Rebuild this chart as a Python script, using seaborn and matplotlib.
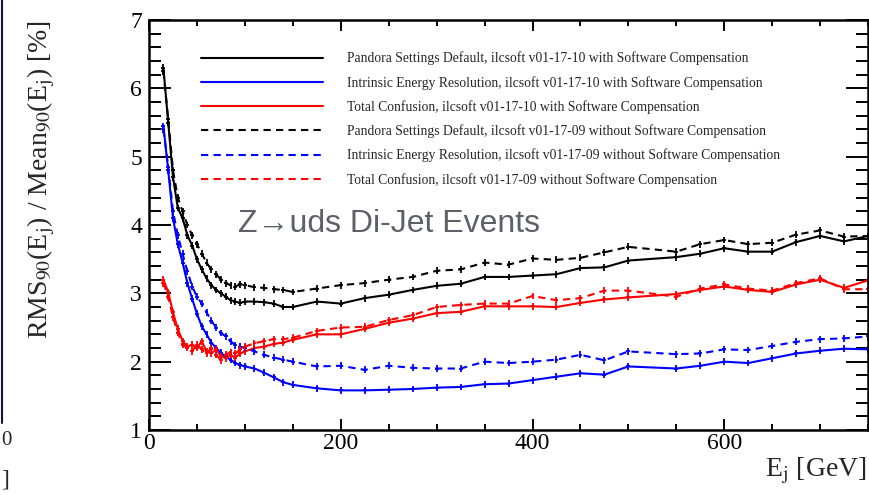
import numpy as np
import pandas as pd
import matplotlib
matplotlib.use("Agg")
import matplotlib.pyplot as plt
from matplotlib.lines import Line2D
from matplotlib.ticker import MultipleLocator
import seaborn as sns

# energias de los jets [GeV]
energia = [15, 20, 25, 30, 35, 40, 45, 50, 55, 60, 65, 70, 75, 80, 85, 90, 95, 100,
           110, 120, 130, 140, 150, 175, 200, 225, 250, 275, 300, 325, 350, 375, 400,
           425, 450, 475, 500, 550, 575, 600, 625, 650, 675, 700, 725, 750]

# con compensacion (v01-17-10)
pandora_10 = [6.30, 5.50, 4.70, 4.25, 4.10, 3.85, 3.70, 3.50, 3.35, 3.22, 3.12, 3.05, 3.00, 2.95,
              2.90, 2.88, 2.86, 2.88, 2.88, 2.87, 2.85, 2.80, 2.80, 2.88, 2.85, 2.93, 2.98, 3.05,
              3.11, 3.14, 3.24, 3.24, 3.26, 3.28, 3.37, 3.38, 3.48, 3.53, 3.58, 3.66, 3.61, 3.61,
              3.75, 3.84, 3.76, 3.84]
intrinseca_10 = [5.45, 4.80, 4.10, 3.72, 3.45, 3.15, 2.92, 2.70, 2.52, 2.40, 2.28, 2.20, 2.13, 2.07,
                 2.03, 1.98, 1.95, 1.93, 1.90, 1.84, 1.77, 1.70, 1.66, 1.61, 1.58, 1.58, 1.59, 1.60,
                 1.62, 1.63, 1.67, 1.68, 1.73, 1.78, 1.83, 1.81, 1.93, 1.90, 1.94, 2.00, 1.98, 2.05,
                 2.12, 2.16, 2.19, 2.18]
confusion_10 = [3.20, 3.02, 2.72, 2.48, 2.30, 2.22, 2.25, 2.20, 2.30, 2.15, 2.12, 2.18, 2.08, 2.05,
                2.10, 2.06, 2.12, 2.15, 2.20, 2.22, 2.26, 2.28, 2.32, 2.40, 2.40, 2.48, 2.57, 2.63,
                2.71, 2.73, 2.81, 2.81, 2.81, 2.80, 2.86, 2.91, 2.94, 2.99, 3.05, 3.10, 3.05, 3.02,
                3.13, 3.20, 3.08, 3.19]

# sin compensacion (v01-17-09)
pandora_09 = [6.25, 5.55, 4.80, 4.40, 4.20, 4.00, 3.85, 3.72, 3.58, 3.45, 3.35, 3.28, 3.20, 3.15,
              3.12, 3.10, 3.13, 3.12, 3.09, 3.08, 3.06, 3.05, 3.02, 3.07, 3.12, 3.15, 3.20, 3.24,
              3.33, 3.35, 3.45, 3.42, 3.51, 3.49, 3.52, 3.60, 3.68, 3.61, 3.72, 3.78, 3.72, 3.74,
              3.86, 3.92, 3.83, 3.84]
intrinseca_09 = [5.40, 4.85, 4.20, 3.85, 3.58, 3.32, 3.10, 2.95, 2.85, 2.72, 2.60, 2.50, 2.42, 2.37,
                 2.30, 2.24, 2.22, 2.20, 2.15, 2.10, 2.06, 2.03, 2.00, 1.93, 1.94, 1.88, 1.94, 1.91,
                 1.90, 1.90, 2.00, 1.98, 2.00, 2.03, 2.10, 2.02, 2.15, 2.11, 2.12, 2.18, 2.17, 2.23,
                 2.29, 2.33, 2.34, 2.37]
confusion_09 = [3.15, 2.95, 2.65, 2.42, 2.25, 2.20, 2.15, 2.25, 2.18, 2.12, 2.20, 2.10, 2.02, 2.10,
                2.14, 2.12, 2.18, 2.22, 2.27, 2.30, 2.33, 2.33, 2.35, 2.45, 2.50, 2.51, 2.61, 2.68,
                2.80, 2.83, 2.85, 2.85, 2.96, 2.90, 2.93, 3.04, 3.04, 2.95, 3.07, 3.13, 3.07, 3.04,
                3.15, 3.22, 3.06, 3.06]

etiquetas = [
    "Pandora Settings Default, ilcsoft v01-17-10 with Software Compensation",
    "Intrinsic Energy Resolution, ilcsoft v01-17-10 with Software Compensation",
    "Total Confusion, ilcsoft v01-17-10 with Software Compensation",
    "Pandora Settings Default, ilcsoft v01-17-09 without Software Compensation",
    "Intrinsic Energy Resolution, ilcsoft v01-17-09 without Software Compensation",
    "Total Confusion, ilcsoft v01-17-09 without Software Compensation",
]
series = [pandora_10, intrinseca_10, confusion_10, pandora_09, intrinseca_09, confusion_09]
colores = ["black", "blue", "red", "black", "blue", "red"]
trazos = ["", "", "", (3.5, 2.5), (3.5, 2.5), (3.5, 2.5)]

# se arma el dataframe en formato largo
df = pd.concat([pd.DataFrame({"E": energia, "res": s, "serie": e})
                for s, e in zip(series, etiquetas)], ignore_index=True)

sns.set_theme(style="ticks")
plt.rcParams["font.family"] = ["Liberation Serif", "DejaVu Serif"]
plt.rcParams["mathtext.fontset"] = "stix"

fig = plt.figure(figsize=(8.69, 4.95), dpi=100)
ax = fig.add_axes([0.1715, 0.1313, 0.8274, 0.8283])

sns.lineplot(data=df, x="E", y="res", hue="serie", style="serie",
             palette=dict(zip(etiquetas, colores)), dashes=dict(zip(etiquetas, trazos)),
             linewidth=1.5, legend=False, ax=ax, sort=False)

# barras de error tipo ROOT
for s, c in zip(series, colores):
    ax.errorbar(energia, s, yerr=0.05, xerr=2.0, fmt="none", ecolor=c, elinewidth=1.3)

ax.set_xlim(0, 750)
ax.set_ylim(1, 7)
ax.xaxis.set_major_locator(MultipleLocator(200))
ax.xaxis.set_minor_locator(MultipleLocator(50))
ax.yaxis.set_major_locator(MultipleLocator(1))
ax.yaxis.set_minor_locator(MultipleLocator(0.2))
ax.tick_params(axis="both", which="both", direction="in", top=True, right=True,
               width=1.4, labelsize=17, color="black", labelcolor="black")
ax.tick_params(axis="x", which="major", length=8, pad=2)
ax.tick_params(axis="x", which="minor", length=4.5)
ax.tick_params(axis="y", which="major", length=16, pad=5)
ax.tick_params(axis="y", which="minor", length=8.5)
for sp in ax.spines.values():
    sp.set_linewidth(1.8)
    sp.set_color("black")

ax.set_xlabel(r"E$_{\mathrm{j}}$ [GeV]", fontsize=20, loc="right")
ax.xaxis.set_label_coords(0.998, -0.062)
ax.set_ylabel(r"RMS$_{90}$(E$_{\mathrm{j}}$) / Mean$_{90}$(E$_{\mathrm{j}}$) [%]",
              fontsize=20, loc="top")
ax.yaxis.set_label_coords(-0.128, 1.0)

# leyenda
manijas = [Line2D([], [], color=c, lw=1.5, dashes=d if d else (None, None))
           for c, d in zip(colores, trazos)]
ley = ax.legend(manijas, etiquetas, loc="upper left", bbox_to_anchor=(0.055, 0.953),
                frameon=False, fontsize=9.8, handlelength=9.0, handletextpad=1.75,
                labelspacing=0.77)

ax.text(0.124, 0.483, "Z\u2192uds Di-Jet Events", transform=ax.transAxes,
        fontsize=23, color="#5d6167", family=["Liberation Sans", "DejaVu Sans"],
        va="baseline", ha="left")

# restos del panel vecino recortado
fig.add_artist(Line2D([0.002, 0.002], [0.145, 1.0], transform=fig.transFigure,
                      color="#1a1030", lw=1.5))
fig.text(0.001, 0.11, "0", ha="left", va="center", fontsize=15)
fig.text(0.001, 0.03, "]", ha="left", va="center", fontsize=17)

fig.savefig("out.png", dpi=100)
